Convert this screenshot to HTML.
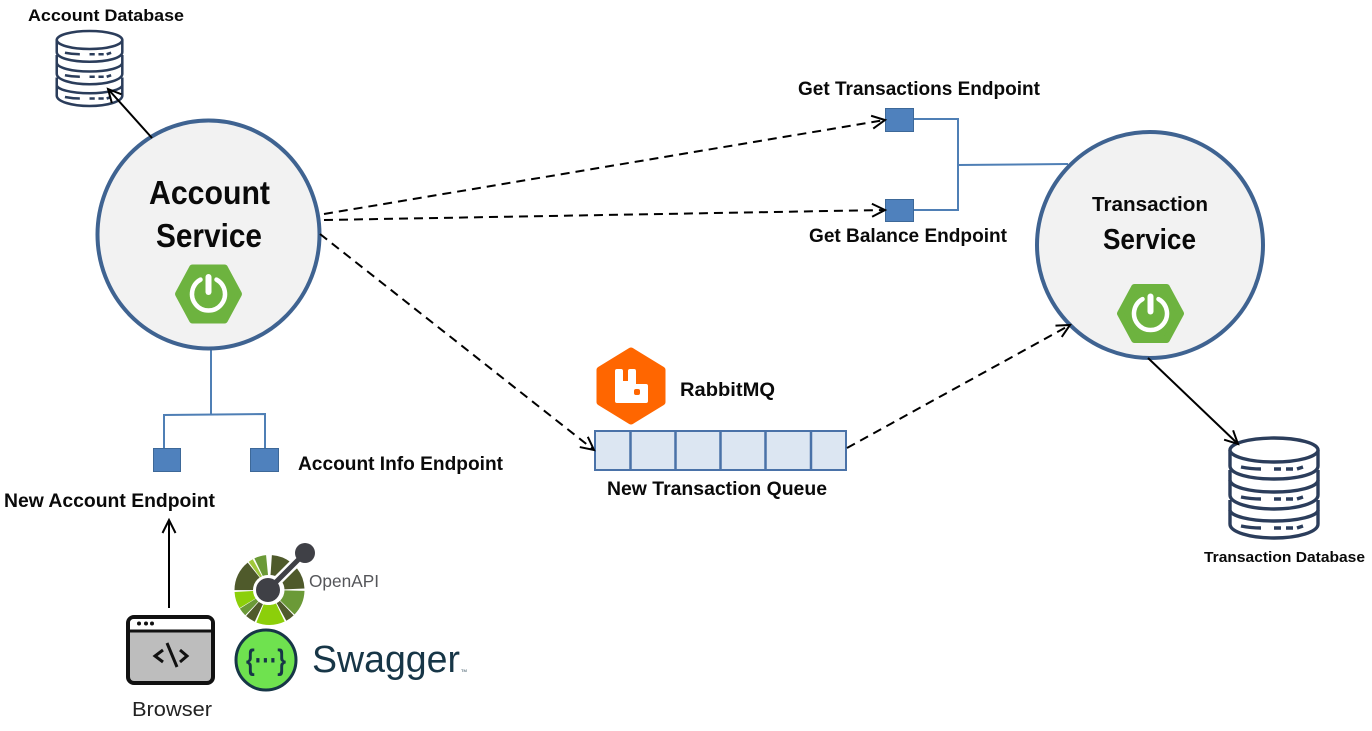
<!DOCTYPE html>
<html>
<head>
<meta charset="utf-8">
<style>
html,body{margin:0;padding:0;background:#fff;width:1372px;height:731px;overflow:hidden}
svg{display:block}
text{font-family:"Liberation Sans",sans-serif;font-weight:bold;fill:#0a0a0a}
</style>
</head>
<body>
<svg width="1372" height="731" viewBox="0 0 1372 731" xmlns="http://www.w3.org/2000/svg">
<defs>
<marker id="a" markerWidth="18" markerHeight="16" refX="15" refY="8" orient="auto" markerUnits="userSpaceOnUse">
<path d="M2 1.500L15 8L2 14.500" fill="none" stroke="#000" stroke-width="2"/>
</marker>
<g id="db" fill="#fff" stroke="#2b3d5b" stroke-width="3.400">
<path d="M1 62V86C1 94 21 100 45 100S89 94 89 86V62"/>
<path d="M1 72C1 78 21 83 45 83S89 78 89 72" fill="none"/>
<path d="M1 32V57C1 65 21 71 45 71S89 65 89 57V32"/>
<path d="M1 42C1 49 21 54 45 54S89 49 89 42" fill="none"/>
<path d="M1 12V28C1 36 21 41 45 41S89 36 89 28V12"/>
<ellipse cx="45" cy="12" rx="44" ry="12"/>
<path d="M12 29Q22 31 32 31M45 31H52M57 31H64M68 31L74 29M12 59Q22 61 32 61M45 61H52M57 61H64M68 61L74 59M12 88Q22 90 32 90M45 90H52M57 90H64M68 90L74 88" fill="none"/>
</g>
<g id="spring">
<path d="M-30 0L-16 -26H16L30 0L16 26H-16Z" fill="#6db33f" stroke="#6db33f" stroke-width="7" stroke-linejoin="round"/>
<path d="M-8 -14.400A16.500 16.500 0 1 0 8 -14.400" fill="none" stroke="#fff" stroke-width="4.500" stroke-linecap="round"/>
<path d="M0 -17V-2" stroke="#fff" stroke-width="6" stroke-linecap="round"/>
</g>
</defs>

<!-- databases -->
<use href="#db" transform="translate(56,31) scale(0.745,0.75)"/>
<use href="#db" transform="translate(1229,438)"/>

<!-- blue tree lines -->
<g stroke="#4f7fb5" stroke-width="2" fill="none">
<path d="M913 119H958V210H913"/>
<path d="M958 165L1068 164"/>
<path d="M211 345V414"/>
<path d="M164 448V415L265 414V448"/>
</g>

<!-- service circles -->
<ellipse cx="208.500" cy="234.500" rx="111" ry="114" fill="#f2f2f2" stroke="#3f6391" stroke-width="4"/>
<circle cx="1150" cy="245" r="113" fill="#f2f2f2" stroke="#3f6391" stroke-width="4"/>
<use href="#spring" transform="translate(208.500,294)"/>
<use href="#spring" transform="translate(1150.500,313.500)"/>

<!-- endpoints -->
<g fill="#4f81bd" stroke="#3d6898" stroke-width="1">
<rect x="885.500" y="108.500" width="28" height="23"/>
<rect x="885.500" y="199.500" width="28" height="22"/>
<rect x="153.500" y="448.500" width="27" height="23"/>
<rect x="250.500" y="448.500" width="28" height="23"/>
</g>

<!-- queue -->
<rect x="595" y="431" width="251" height="39" fill="#dce6f2" stroke="#4a72a8" stroke-width="2"/>
<path d="M630.500 431V470M675.500 431V470M720.500 431V470M765.500 431V470M811 431V470" stroke="#4a72a8" stroke-width="2.500"/>

<!-- rabbit -->
<path d="M631 351L662 370V402L631 421L600 402V370Z" fill="#ff6600" stroke="#ff6600" stroke-width="7" stroke-linejoin="round"/>
<path d="M615 371Q615 369 617 369H621Q623 369 623 371V381H628V371Q628 369 630 369H634Q636 369 636 371V384H646Q648 384 648 386V401Q648 403 646 403H617Q615 403 615 401Z" fill="#fff"/>
<rect x="634" y="389" width="6" height="6" rx="2" fill="#ff6600"/>

<!-- connectors -->
<g stroke="#000" stroke-width="2" fill="none">
<path d="M324 214L885 120" stroke-dasharray="9 6" marker-end="url(#a)"/>
<path d="M324 220L885 210" stroke-dasharray="9 6" marker-end="url(#a)"/>
<path d="M320 234L594 450" stroke-dasharray="9 6" marker-end="url(#a)"/>
<path d="M847 448L1070 325" stroke-dasharray="9 6" marker-end="url(#a)"/>
<path d="M152 138L108 89" marker-end="url(#a)"/>
<path d="M1148 358L1238 444" marker-end="url(#a)"/>
<path d="M169 608V520" marker-end="url(#a)"/>
</g>

<!-- browser -->
<rect x="128" y="617" width="85" height="66" rx="6" fill="#bdbdbd" stroke="#111" stroke-width="4"/>
<path d="M130 630V623Q130 619 134 619H207Q211 619 211 623V630Z" fill="#fff"/>
<path d="M129 631H212" stroke="#111" stroke-width="3"/>
<circle cx="139" cy="623.500" r="2" fill="#111"/><circle cx="146" cy="623.500" r="2" fill="#111"/><circle cx="152" cy="623.500" r="2" fill="#111"/>
<path d="M163 650L155 656L163 662M180 650L187 656L180 662M167 643L177 667" fill="none" stroke="#111" stroke-width="3"/>

<!-- OpenAPI logo -->
<g fill="none" stroke-width="20">
<circle cx="269.500" cy="590" r="25" pathLength="360" transform="rotate(-90 269.500 590)" stroke="#4f5a2b" stroke-dasharray="34 326" stroke-dashoffset="-4"/>
<circle cx="269.500" cy="590" r="25" pathLength="360" transform="rotate(-90 269.500 590)" stroke="#4f5a2b" stroke-dasharray="36 324" stroke-dashoffset="-52"/>
<circle cx="269.500" cy="590" r="25" pathLength="360" transform="rotate(-90 269.500 590)" stroke="#6b9a37" stroke-dasharray="43 317" stroke-dashoffset="-92"/>
<circle cx="269.500" cy="590" r="25" pathLength="360" transform="rotate(-90 269.500 590)" stroke="#4f5a2b" stroke-dasharray="15 345" stroke-dashoffset="-137"/>
<circle cx="269.500" cy="590" r="25" pathLength="360" transform="rotate(-90 269.500 590)" stroke="#8ccf0a" stroke-dasharray="48 312" stroke-dashoffset="-155"/>
<circle cx="269.500" cy="590" r="25" pathLength="360" transform="rotate(-90 269.500 590)" stroke="#4f5a2b" stroke-dasharray="17 343" stroke-dashoffset="-206"/>
<circle cx="269.500" cy="590" r="25" pathLength="360" transform="rotate(-90 269.500 590)" stroke="#6b9a37" stroke-dasharray="14 346" stroke-dashoffset="-225"/>
<circle cx="269.500" cy="590" r="25" pathLength="360" transform="rotate(-90 269.500 590)" stroke="#8ccf0a" stroke-dasharray="28 332" stroke-dashoffset="-240"/>
<circle cx="269.500" cy="590" r="25" pathLength="360" transform="rotate(-90 269.500 590)" stroke="#4f5a2b" stroke-dasharray="52 308" stroke-dashoffset="-271"/>
<circle cx="269.500" cy="590" r="25" pathLength="360" transform="rotate(-90 269.500 590)" stroke="#a0c83c" stroke-dasharray="8 352" stroke-dashoffset="-325"/>
<circle cx="269.500" cy="590" r="25" pathLength="360" transform="rotate(-90 269.500 590)" stroke="#6b9a37" stroke-dasharray="20 340" stroke-dashoffset="-336"/>
</g>
<circle cx="268" cy="590" r="15" fill="#fff"/>
<path d="M268 590L305 553" stroke="#fff" stroke-width="10"/>
<path d="M268 590L305 553" stroke="#3f4046" stroke-width="5"/>
<circle cx="268" cy="590" r="12" fill="#3f4046"/>
<circle cx="305" cy="553" r="10" fill="#3f4046"/>

<!-- Swagger logo -->
<circle cx="266" cy="660" r="30" fill="#6fe24f" stroke="#173647" stroke-width="3"/>
<text x="266" y="670" font-size="30" text-anchor="middle" style="fill:#173647" textLength="40" lengthAdjust="spacingAndGlyphs">{···}</text>

<!-- labels -->
<text x="28" y="21" font-size="16.500" textLength="156" lengthAdjust="spacingAndGlyphs">Account Database</text>
<text x="149" y="204" font-size="33" textLength="121" lengthAdjust="spacingAndGlyphs">Account</text>
<text x="156" y="247" font-size="33" textLength="106" lengthAdjust="spacingAndGlyphs">Service</text>
<text x="1092" y="211" font-size="20.500" textLength="116" lengthAdjust="spacingAndGlyphs">Transaction</text>
<text x="1103" y="249" font-size="28.500" textLength="93" lengthAdjust="spacingAndGlyphs">Service</text>
<text x="798" y="95" font-size="19" textLength="242" lengthAdjust="spacingAndGlyphs">Get Transactions Endpoint</text>
<text x="809" y="242" font-size="19" textLength="198" lengthAdjust="spacingAndGlyphs">Get Balance Endpoint</text>
<text x="680" y="396" font-size="19" textLength="95" lengthAdjust="spacingAndGlyphs">RabbitMQ</text>
<text x="607" y="495" font-size="19" textLength="220" lengthAdjust="spacingAndGlyphs">New Transaction Queue</text>
<text x="298" y="470" font-size="19" textLength="205" lengthAdjust="spacingAndGlyphs">Account Info Endpoint</text>
<text x="4" y="507" font-size="19" textLength="211" lengthAdjust="spacingAndGlyphs">New Account Endpoint</text>
<text x="1204" y="562" font-size="15" textLength="161" lengthAdjust="spacingAndGlyphs">Transaction Database</text>
<text x="132" y="716" font-size="20.500" style="font-weight:normal;fill:#222" textLength="80" lengthAdjust="spacingAndGlyphs">Browser</text>
<text x="309" y="587" font-size="17.500" style="font-weight:normal;fill:#55565a" textLength="70" lengthAdjust="spacingAndGlyphs">OpenAPI</text>
<text x="312" y="672" font-size="38" style="font-weight:normal;fill:#173647" textLength="148" lengthAdjust="spacingAndGlyphs">Swagger</text>
<text x="461" y="672" font-size="4" style="font-weight:normal;fill:#173647">TM</text>
</svg>
</body>
</html>
